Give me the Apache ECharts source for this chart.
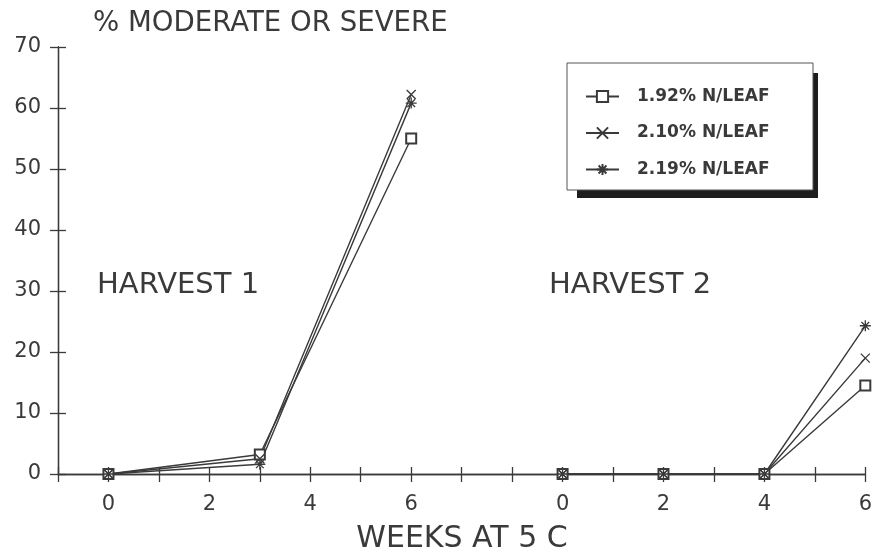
<!DOCTYPE html>
<html>
<head>
<meta charset="utf-8">
<script src="https://cdn.jsdelivr.net/npm/echarts@6/dist/echarts.min.js"></script>
<style>
html,body{margin:0;padding:0;background:#fff;}
#chart{width:875px;height:558px;}
</style>
</head>
<body>
<div id="chart"></div>
<script>
// ---- data ----
var seriesNames = ['1.92% N/LEAF', '2.10% N/LEAF', '2.19% N/LEAF'];
var weeksH1 = [0, 3, 6];
var weeksH2 = [0, 2, 4, 6];
var harvest2Offset = 9;           // position of Harvest 2 week 0 on the shared axis
var weekTickLabels = ['0', '2', '4', '6'];
var h1_192 = [0, 3.2, 55];
var h1_210 = [0, 2.5, 62.2];
var h1_219 = [0, 1.6, 60.8];
var h2_192 = [0, 0, 0, 14.5];
var h2_210 = [0, 0, 0, 19];
var h2_219 = [0, 0, 0, 24.3];
var yTicks = [0, 10, 20, 30, 40, 50, 60, 70];

function buildData(h1, h2) {
  var d = [];
  weeksH1.forEach(function (w, i) { d.push([w, h1[i]]); });
  d.push(['-', '-']);
  weeksH2.forEach(function (w, i) { d.push([w + harvest2Offset, h2[i]]); });
  return d;
}
function xLabel(v) {
  var s = String(v);
  if (weekTickLabels.indexOf(s) >= 0) return s;
  var s2 = String(v - harvest2Offset);
  if (weekTickLabels.indexOf(s2) >= 0) return s2;
  return '';
}

var ink = '#3a3a3a';
var xPath = 'path://M0,0L10,10M10,0L0,10';
var starPath = 'path://M5,0L5,10M0,5L10,5M1.5,1.5L8.5,8.5M8.5,1.5L1.5,8.5';
var FONT = '"DejaVu Sans", sans-serif';

var chart = echarts.init(document.getElementById('chart'), null, {renderer: 'canvas'});
var xMin = -1, xMax = weeksH2[weeksH2.length - 1] + harvest2Offset;
var axisCommon = {
  type: 'value', min: xMin, max: xMax, interval: 1, position: 'bottom', offset: 0,
  splitLine: {show: false}
};
var yCommon = {
  type: 'value', min: yTicks[0], max: yTicks[yTicks.length - 1], interval: 10, position: 'left', offset: 0,
  splitLine: {show: false}
};
chart.setOption({
  animation: false,
  backgroundColor: '#fff',
  grid: {left: 58, right: 9, top: 47, bottom: 84, containLabel: false},
  xAxis: [
    Object.assign({}, axisCommon, {
      axisLine: {show: true, onZero: false, lineStyle: {color: ink, width: 1.3}},
      axisTick: {show: true, length: 8, lineStyle: {color: ink, width: 1.3}},
      axisLabel: {show: true, margin: 20, color: ink, fontFamily: FONT, fontSize: 21,
        formatter: xLabel, showMinLabel: true, showMaxLabel: true, hideOverlap: false, interval: 0}
    }),
    Object.assign({}, axisCommon, {
      show: true,
      axisLine: {show: true, onZero: false, lineStyle: {color: ink, width: 1.3}},
      axisTick: {show: true, inside: true, length: 7, lineStyle: {color: ink, width: 1.3}},
      axisLabel: {show: false}
    })
  ],
  yAxis: [
    Object.assign({}, yCommon, {
      axisLine: {show: true, onZero: false, lineStyle: {color: ink, width: 1.3}},
      axisTick: {show: true, length: 8, lineStyle: {color: ink, width: 1.3}},
      axisLabel: {margin: 17, color: ink, fontFamily: FONT, fontSize: 21}
    }),
    Object.assign({}, yCommon, {
      show: true,
      axisLine: {show: true, onZero: false, lineStyle: {color: ink, width: 1.3}},
      axisTick: {show: true, inside: true, length: 8, lineStyle: {color: ink, width: 1.3}},
      axisLabel: {show: false}
    })
  ],
  legend: {
    orient: 'vertical', left: 580, top: 83, itemWidth: 33, itemHeight: 14, itemGap: 19.5,
    data: seriesNames,
    textStyle: {color: ink, fontFamily: FONT, fontSize: 17, fontWeight: 'bold', padding: [0, 0, 0, 13]},
    inactiveColor: ink, selectedMode: false, z: 20
  },
  graphic: [
    {type: 'rect', z: 5, shape: {x: 577, y: 73, width: 241, height: 125}, style: {fill: '#1e1e1e'}},
    {type: 'rect', z: 6, shape: {x: 567, y: 63, width: 246, height: 127}, style: {fill: '#fff', stroke: '#555', lineWidth: 1}},
    {type: 'text', z: 10, style: {text: '% MODERATE OR SEVERE', x: 93, y: 24, fill: ink, font: '27.6px ' + FONT, textAlign: 'left', textVerticalAlign: 'middle'}},
    {type: 'text', z: 10, style: {text: 'HARVEST 1', x: 97, y: 285, fill: ink, font: '29px ' + FONT, textAlign: 'left', textVerticalAlign: 'middle'}},
    {type: 'text', z: 10, style: {text: 'HARVEST 2', x: 549, y: 285, fill: ink, font: '29px ' + FONT, textAlign: 'left', textVerticalAlign: 'middle'}},
    {type: 'text', z: 10, style: {text: 'WEEKS AT 5 C', x: 462, y: 539, fill: ink, font: '30px ' + FONT, textAlign: 'center', textVerticalAlign: 'middle'}}
  ],
  series: [
    {
      name: seriesNames[0], type: 'line', data: buildData(h1_192, h2_192), connectNulls: false,
      symbol: 'emptyRect', symbolSize: 10, showAllSymbol: true,
      lineStyle: {color: ink, width: 1.4}, itemStyle: {color: ink, borderColor: ink, borderWidth: 1.3}
    },
    {
      name: seriesNames[1], type: 'line', data: buildData(h1_210, h2_210), connectNulls: false,
      symbol: xPath, symbolSize: 9, showAllSymbol: true,
      lineStyle: {color: ink, width: 1.4}, itemStyle: {color: ink, borderColor: ink, borderWidth: 1.3}
    },
    {
      name: seriesNames[2], type: 'line', data: buildData(h1_219, h2_219), connectNulls: false,
      symbol: starPath, symbolSize: 11, showAllSymbol: true,
      lineStyle: {color: ink, width: 1.4}, itemStyle: {color: ink, borderColor: ink, borderWidth: 1.3}
    }
  ]
});
</script>
</body>
</html>
